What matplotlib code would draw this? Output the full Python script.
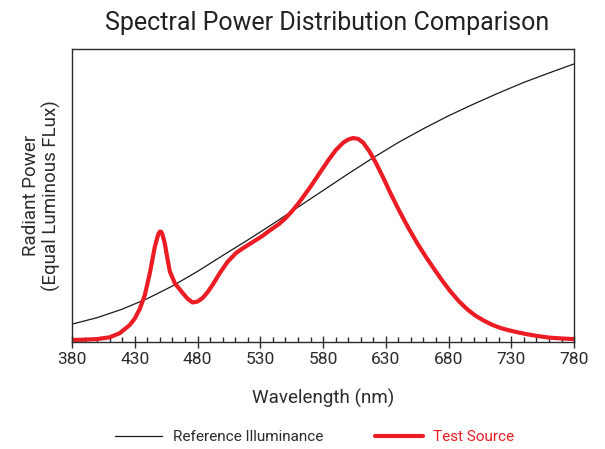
import matplotlib
matplotlib.use('Agg')
import matplotlib.pyplot as plt
from matplotlib.ticker import MultipleLocator

plt.rcParams['font.family'] = ['Roboto', 'DejaVu Sans']

# reference illuminance (thin black)
ref_nm = [380, 400, 420, 440, 460, 480, 500, 520, 540, 560, 580, 600,
          620, 640, 660, 680, 700, 720, 740, 760, 780]
ref_val = [0.061, 0.083, 0.112, 0.148, 0.191, 0.241, 0.295, 0.348, 0.403,
           0.460, 0.517, 0.574, 0.629, 0.681, 0.728, 0.772, 0.812, 0.850,
           0.886, 0.918, 0.949]

# test source (thick red)
test_nm = [380, 390, 400, 410, 418, 426, 430, 434, 438, 442, 446, 448, 449,
           450, 451, 452, 454, 456, 458, 462, 468, 472, 476, 480, 484, 488,
           492, 498, 504, 511, 518, 524, 531, 538, 545, 550, 555, 560, 565,
           570, 578, 584, 590, 596, 600, 604, 608, 612, 617, 622, 628, 634,
           641, 648, 655, 662, 668, 675, 681, 688, 695, 701, 708, 715, 722,
           728, 735, 742, 750, 760, 770, 780]
test_val = [0.007, 0.008, 0.010, 0.016, 0.03, 0.058, 0.08, 0.113, 0.16,
            0.235, 0.325, 0.357, 0.370, 0.377, 0.376, 0.368, 0.335, 0.285,
            0.24, 0.2, 0.168, 0.148, 0.135, 0.138, 0.15, 0.17, 0.195, 0.237,
            0.274, 0.305, 0.325, 0.341, 0.36, 0.382, 0.403, 0.422, 0.445,
            0.471, 0.5, 0.53, 0.581, 0.619, 0.654, 0.68, 0.691, 0.696,
            0.693, 0.68, 0.65, 0.612, 0.56, 0.505, 0.445, 0.389, 0.337,
            0.29, 0.252, 0.209, 0.175, 0.14, 0.111, 0.091, 0.073, 0.058,
            0.047, 0.04, 0.033, 0.027, 0.021, 0.015, 0.012, 0.01]

tick_nm = [380, 430, 480, 530, 580, 630, 680, 730, 780]

dark = '#2b2b2b'
red = '#ec1c24'

fig = plt.figure(figsize=(6.05, 4.49), dpi=100)
ax = fig.add_axes([0.119, 0.2383, 0.830, 0.6527])

ax.plot(ref_nm, ref_val, color='#1a1a1a', lw=0.9, label='Reference Illuminance')
ax.plot(test_nm, test_val, color=red, lw=3, label='Test Source',
        solid_capstyle='round', solid_joinstyle='round')

ax.set_xlim(380, 780)
ax.set_ylim(0, 1)
ax.set_xticks(tick_nm)
ax.xaxis.set_minor_locator(MultipleLocator(10))
ax.tick_params(axis='x', which='major', direction='inout', length=8.5,
               width=1, color=dark, labelsize=12.5, labelcolor=dark, pad=3)
ax.tick_params(axis='x', which='minor', direction='in', length=3.6,
               width=1, color=dark)
ax.set_yticks([])
for s in ax.spines.values():
    s.set_color(dark)
    s.set_linewidth(1)

ax.set_xlabel('Wavelength (nm)', fontsize=13.5, color=dark, labelpad=16)
ax.set_ylabel('Radiant Power\n(Equal Luminous FLux)', fontsize=13.5,
              color=dark, labelpad=8, linespacing=1.1)
fig.text(0.54, 0.948, 'Spectral Power Distribution Comparison', ha='center',
         va='center', fontsize=18, color='#222222')

leg = fig.legend(loc='center', bbox_to_anchor=(0.52, 0.027), ncol=2,
                 frameon=False, fontsize=11, handlelength=3.1,
                 columnspacing=3.4, handletextpad=0.7)
for txt, col in zip(leg.get_texts(), [dark, red]):
    txt.set_color(col)

fig.savefig('out.png', dpi=100)
